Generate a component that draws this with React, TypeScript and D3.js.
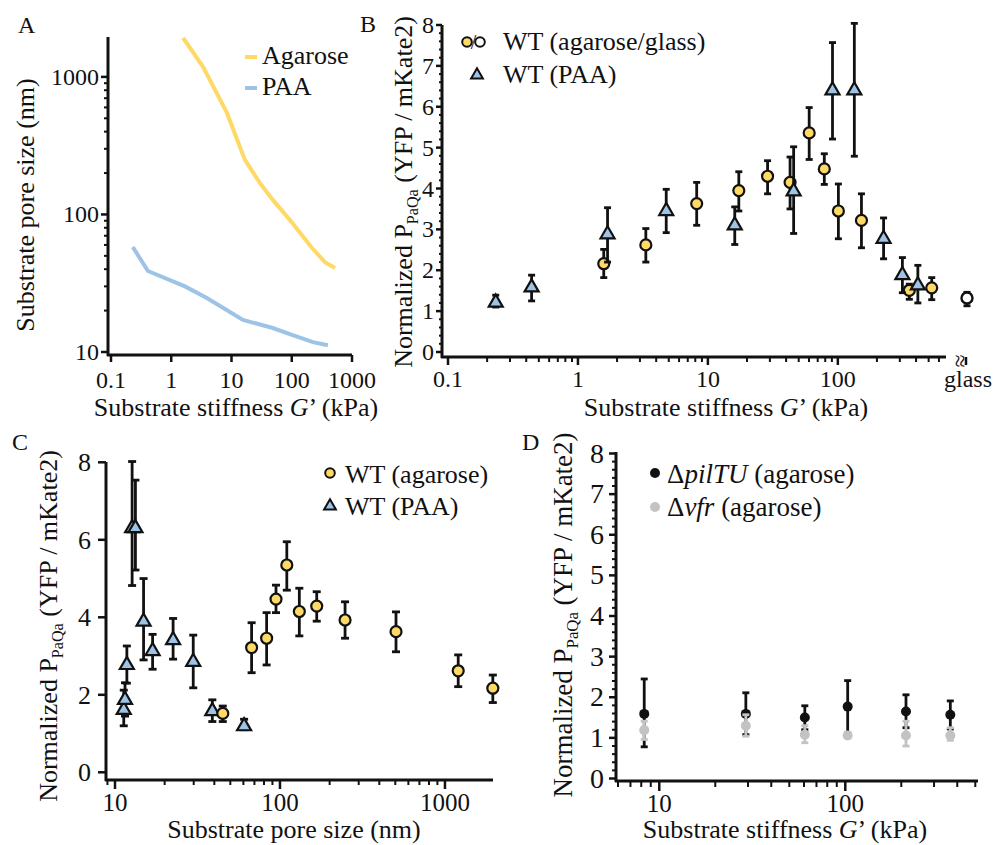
import * as d3 from "d3";
import React, {useEffect, useRef} from "react";

// ---- panel A: pore size against stiffness
const agaroseCurveG = [1.57, 3.37, 8.4, 16.7, 29.7, 48.9, 93.6, 217, 356, 522];
const agaroseCurvePore = [1920, 1183, 547, 249, 169, 127, 91, 57, 45, 40.8];
const paaCurveG = [0.23, 0.41, 1.69, 3.9, 15.5, 47, 101, 225, 398];
const paaCurvePore = [58, 38.8, 30, 24.7, 17.1, 15, 13.3, 11.8, 11.2];

// ---- panel B: WT reporter vs stiffness
const paaStiffB = [0.233, 0.44, 1.69, 4.78, 16.1, 45.7, 91, 134, 225, 314, 413];
const paaValB = [1.21, 1.58, 2.88, 3.45, 3.1, 3.93, 6.4, 6.4, 2.77, 1.88, 1.63];
const paaLoB = [1.1, 1.25, 2.2, 2.92, 2.63, 2.9, 5.21, 4.79, 2.28, 1.45, 1.2];
const paaHiB = [1.39, 1.88, 3.53, 3.98, 3.55, 5.02, 7.57, 8.04, 3.28, 2.31, 2.12];

const agaStiffB = [1.58, 3.33, 8.2, 17.3, 28.8, 42.9, 60.2, 78.7, 101, 152, 355, 528];
const agaValB = [2.16, 2.62, 3.63, 3.95, 4.3, 4.15, 5.36, 4.48, 3.45, 3.22, 1.51, 1.57];
const agaLoB = [1.82, 2.2, 3.1, 3.45, 3.87, 3.5, 4.71, 4.1, 2.77, 2.55, 1.29, 1.28];
const agaHiB = [2.51, 3.02, 4.15, 4.41, 4.68, 4.77, 5.98, 4.85, 4.11, 3.87, 1.66, 1.82];

const glassVal = 1.32;
const glassLo = 1.13;
const glassHi = 1.46;

// ---- panel C: WT reporter vs pore size
const paaPoreC = [11.3, 11.5, 11.8, 12.7, 13.3, 14.9, 16.9, 22.5, 29.8, 38.9, 60.6];
const paaValC = [1.61, 1.87, 2.77, 6.3, 6.3, 3.89, 3.13, 3.41, 2.85, 1.58, 1.19];
const paaLoC = [1.2, 1.45, 2.3, 4.82, 5.22, 2.9, 2.66, 2.92, 2.18, 1.31, 1.1];
const paaHiC = [2.12, 2.31, 3.26, 8.02, 7.54, 5.0, 3.56, 3.97, 3.54, 1.87, 1.37];

const agaPoreC = [45, 67.3, 83, 94.6, 110, 131, 167, 248, 505, 1203, 1950];
const agaValC = [1.52, 3.22, 3.46, 4.47, 5.35, 4.15, 4.29, 3.93, 3.63, 2.62, 2.17];
const agaLoC = [1.31, 2.57, 2.77, 4.12, 4.7, 3.52, 3.9, 3.46, 3.11, 2.21, 1.8];
const agaHiC = [1.71, 3.86, 4.12, 4.83, 5.95, 4.75, 4.66, 4.4, 4.14, 3.03, 2.51];

// ---- panel D: mutants
const mutStiffD = [8.3, 29.2, 60.6, 103, 212, 367];
const pilValD = [1.59, 1.59, 1.5, 1.77, 1.65, 1.57];
const pilLoD = [0.78, 1.08, 1.2, 1.12, 1.25, 1.22];
const pilHiD = [2.45, 2.11, 1.79, 2.41, 2.06, 1.91];
const vfrValD = [1.19, 1.3, 1.08, 1.06, 1.06, 1.06];
const vfrLoD = [0.96, 1.04, 0.88, 1.0, 0.8, 0.94];
const vfrHiD = [1.41, 1.57, 1.3, 1.12, 1.41, 1.25];

// tick labels
const ticksA_x = [0.1, 1, 10, 100, 1000];
const ticksA_y = [10, 100, 1000];
const ticksB_x = [0.1, 1, 10, 100];
const ticksC_x = [10, 100, 1000];
const ticksD_x = [10, 100];
const ticks8 = [0, 1, 2, 3, 4, 5, 6, 7, 8];
const ticksC_y = [0, 2, 4, 6, 8];

const FONT = "Liberation Serif, Times New Roman, DejaVu Serif, serif";
const YELLOW = "#ffd966";
const BLUE = "#9dc3e6";
const GREY = "#c3c3c3";
const INK = "#111";

const App = () => {
    const ref = useRef(null);

    useEffect(() => {
        const svg = d3.select(ref.current);
        svg.selectAll("*").remove();

        const newText = () => svg.append("text").style("font-family", FONT).attr("fill", INK);

        const txt = (x, y, s, size, anchor = "start") =>
            newText().attr("x", x).attr("y", y).attr("font-size", size)
                .attr("text-anchor", anchor).text(s);

        const line = (x1, y1, x2, y2, w = 2.5, c = INK) =>
            svg.append("line").attr("x1", x1).attr("y1", y1).attr("x2", x2).attr("y2", y2)
                .attr("stroke", c).attr("stroke-width", w);

        // x axis: line + ticks (down) + labels
        function xAxis(scale, y, x0, x1, majors, minors, fmt, size, labelY, majLen, minLen) {
            line(x0, y, x1, y, 3);
            minors.filter(v => !majors.includes(v)).forEach(v => line(scale(v), y, scale(v), y + minLen, 2));
            majors.forEach(v => {
                line(scale(v), y, scale(v), y + majLen, 2.5);
                txt(scale(v), labelY, fmt(v), size, "middle");
            });
        }

        function yAxis(scale, x, y0, y1, majors, minors, fmt, size, labelX, majLen, minLen, dy) {
            line(x, y0, x, y1, 3);
            minors.filter(v => !majors.includes(v)).forEach(v => line(x, scale(v), x - minLen, scale(v), 2));
            majors.forEach(v => {
                line(x, scale(v), x - majLen, scale(v), 2.5);
                txt(labelX, scale(v) + dy, fmt(v), size, "end");
            });
        }

        function yTitle(x, y, size) {
            const t = newText().attr("transform", `translate(${x},${y}) rotate(-90)`)
                .attr("text-anchor", "middle").attr("font-size", size);
            t.append("tspan").text("Normalized P");
            t.append("tspan").attr("font-size", size * 0.62).attr("dy", size * 0.22).text("PaQa");
            t.append("tspan").attr("dy", -size * 0.22).text(" (YFP / mKate2)");
        }

        function stiffTitle(x, y, size) {
            const t = newText().attr("x", x).attr("y", y).attr("text-anchor", "middle")
                .attr("font-size", size);
            t.append("tspan").text("Substrate stiffness ");
            t.append("tspan").attr("font-style", "italic").text("G");
            t.append("tspan").text("’ (kPa)");
        }

        function errBars(xs, los, his, xS, yS, cap, color, w = 2.8) {
            xs.forEach((v, i) => {
                const cx = xS(v);
                line(cx, yS(los[i]), cx, yS(his[i]), w, color);
                line(cx - cap, yS(los[i]), cx + cap, yS(los[i]), w, color);
                line(cx - cap, yS(his[i]), cx + cap, yS(his[i]), w, color);
            });
        }

        const tri = d3.symbol().type(d3.symbolTriangle).size(85);

        function circles(xs, ys, xS, yS, fill, r = 5.5, stroke = INK) {
            xs.forEach((v, i) => svg.append("circle").attr("cx", xS(v)).attr("cy", yS(ys[i])).attr("r", r)
                .attr("fill", fill).attr("stroke", stroke).attr("stroke-width", stroke === "none" ? 0 : 2.2));
        }

        function triangles(xs, ys, xS, yS) {
            xs.forEach((v, i) => svg.append("path").attr("d", tri())
                .attr("transform", `translate(${xS(v)},${yS(ys[i])})`)
                .attr("fill", BLUE).attr("stroke", INK).attr("stroke-width", 2.2));
        }

        const fmtNum = v => String(v);
        const minorLin = d3.range(0, 8.01, 0.2).map(v => +v.toFixed(1));

        // ================= Panel A
        const xA = d3.scaleLog().domain([0.1, 1000]).range([111, 352]);
        const yA = d3.scaleLog().domain([10, 1950]).range([352, 37]);
        xAxis(xA, 355, 107, 352, ticksA_x, [], fmtNum, 24, 388, 7, 0);
        yAxis(yA, 108, 37, 356, ticksA_y, yA.ticks(), fmtNum, 24, 99, 7, 4, 8);

        const lineGen = d3.line().x(d => xA(d[0])).y(d => yA(d[1]));
        svg.append("path").datum(agaroseCurveG.map((g, i) => [g, agaroseCurvePore[i]]))
            .attr("d", lineGen).attr("fill", "none").attr("stroke", YELLOW).attr("stroke-width", 4);
        svg.append("path").datum(paaCurveG.map((g, i) => [g, paaCurvePore[i]]))
            .attr("d", lineGen).attr("fill", "none").attr("stroke", BLUE).attr("stroke-width", 4);

        line(245, 57, 257, 57, 4, YELLOW);
        txt(262, 64, "Agarose", 26);
        line(245, 88, 257, 88, 4, BLUE);
        txt(262, 95, "PAA", 26);

        newText().attr("transform", "translate(34,205) rotate(-90)").attr("text-anchor", "middle")
            .attr("font-size", 26).text("Substrate pore size (nm)");
        stiffTitle(236, 416, 26);
        txt(18, 33, "A", 24);

        // ================= Panel B
        const xB = d3.scaleLog().domain([0.1, 680]).range([448, 946]);
        const yB = d3.scaleLinear().domain([0, 8]).range([352, 25]);
        xAxis(xB, 357, 441, 946, ticksB_x, xB.ticks(), fmtNum, 24, 387, 8, 5);
        yAxis(yB, 442, 25, 358, ticks8, minorLin, fmtNum, 24, 434, 6, 3, 8);
        // axis break and glass position
        newText().attr("transform", "translate(952,361) rotate(90)").attr("text-anchor", "middle")
            .attr("font-size", 24).text("≈");
        line(966, 357, 966, 365, 2.5);
        txt(968, 387, "glass", 24, "middle");

        errBars(agaStiffB, agaLoB, agaHiB, xB, yB, 3.5, INK);
        circles(agaStiffB, agaValB, xB, yB, YELLOW);
        errBars(paaStiffB, paaLoB, paaHiB, xB, yB, 3.5, INK);
        triangles(paaStiffB, paaValB, xB, yB);
        line(967, yB(glassLo), 967, yB(glassHi), 2.8);
        line(963.5, yB(glassLo), 970.5, yB(glassLo), 2.8);
        line(963.5, yB(glassHi), 970.5, yB(glassHi), 2.8);
        svg.append("circle").attr("cx", 967).attr("cy", yB(glassVal)).attr("r", 5.5)
            .attr("fill", "#fff").attr("stroke", INK).attr("stroke-width", 2.4);

        // legend B
        svg.append("circle").attr("cx", 467).attr("cy", 42).attr("r", 4.8).attr("fill", YELLOW)
            .attr("stroke", INK).attr("stroke-width", 2);
        txt(473.5, 49, "/", 20, "middle");
        svg.append("circle").attr("cx", 480).attr("cy", 42).attr("r", 4.8).attr("fill", "#fff")
            .attr("stroke", INK).attr("stroke-width", 2);
        txt(503, 50, "WT (agarose/glass)", 26);
        svg.append("path").attr("d", d3.symbol().type(d3.symbolTriangle).size(60)())
            .attr("transform", "translate(477,75)").attr("fill", BLUE).attr("stroke", INK).attr("stroke-width", 2);
        txt(503, 83, "WT (PAA)", 26);

        yTitle(412, 192, 26);
        stiffTitle(726, 416, 26);
        txt(360, 32, "B", 24);

        // ================= Panel C
        const xC = d3.scaleLog().domain([8.82, 1955]).range([106, 493]);
        const yC = d3.scaleLinear().domain([0, 8]).range([772.3, 462.3]);
        xAxis(xC, 780, 105, 493, ticksC_x, xC.ticks(), fmtNum, 25, 811, 9, 5);
        yAxis(yC, 106, 462, 781, ticksC_y, [], fmtNum, 26, 91, 8, 0, 9);

        errBars(paaPoreC, paaLoC, paaHiC, xC, yC, 4, INK);
        triangles(paaPoreC, paaValC, xC, yC);
        errBars(agaPoreC, agaLoC, agaHiC, xC, yC, 4, INK);
        circles(agaPoreC, agaValC, xC, yC, YELLOW);

        svg.append("circle").attr("cx", 330).attr("cy", 473).attr("r", 4.8).attr("fill", YELLOW)
            .attr("stroke", INK).attr("stroke-width", 2);
        txt(345, 483, "WT (agarose)", 26);
        svg.append("path").attr("d", d3.symbol().type(d3.symbolTriangle).size(60)())
            .attr("transform", "translate(330,506)").attr("fill", BLUE).attr("stroke", INK).attr("stroke-width", 2);
        txt(345, 515, "WT (PAA)", 26);

        yTitle(57, 626, 26);
        txt(294, 838, "Substrate pore size (nm)", 26, "middle");
        txt(12, 450, "C", 24);

        // ================= Panel D
        const xD = d3.scaleLog().domain([5.78, 517]).range([615, 978]);
        const yD = d3.scaleLinear().domain([0, 8]).range([778.5, 453.5]);
        xAxis(xD, 781, 615, 978, ticksD_x, xD.ticks(), fmtNum, 25, 812, 10, 6);
        yAxis(yD, 616, 452, 782, ticks8, minorLin, fmtNum, 28, 604, 7, 4, 9);

        errBars(mutStiffD, pilLoD, pilHiD, xD, yD, 3.5, INK);
        circles(mutStiffD, pilValD, xD, yD, INK, 5, "none");
        errBars(mutStiffD, vfrLoD, vfrHiD, xD, yD, 3.5, GREY);
        circles(mutStiffD, vfrValD, xD, yD, GREY, 5, "none");

        svg.append("circle").attr("cx", 655).attr("cy", 473).attr("r", 5).attr("fill", INK);
        const l1 = newText().attr("x", 667).attr("y", 483).attr("font-size", 27);
        l1.append("tspan").text("Δ");
        l1.append("tspan").attr("font-style", "italic").text("pilTU");
        l1.append("tspan").text(" (agarose)");
        svg.append("circle").attr("cx", 655).attr("cy", 507).attr("r", 5).attr("fill", GREY);
        const l2 = newText().attr("x", 667).attr("y", 516).attr("font-size", 27);
        l2.append("tspan").text("Δ");
        l2.append("tspan").attr("font-style", "italic").text("vfr");
        l2.append("tspan").text(" (agarose)");

        yTitle(572, 615, 27);
        stiffTitle(785, 838, 26);
        txt(522, 450, "D", 24);
    }, []);

    return (
        <svg ref={ref} width={1000} height={845}
             style={{position: "absolute", left: 0, top: 0, background: "#fff"}}/>
    );
};

export default App;
